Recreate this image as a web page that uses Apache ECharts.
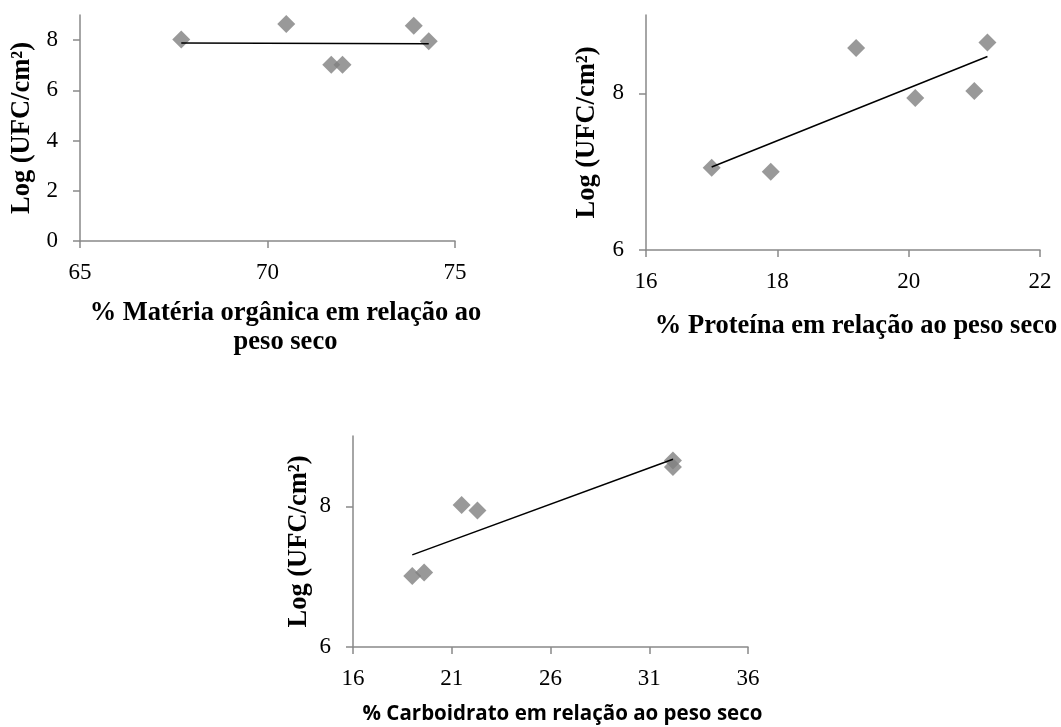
<!DOCTYPE html>
<html>
<head>
<meta charset="utf-8">
<script src="https://cdn.jsdelivr.net/npm/echarts@6/dist/echarts.min.js"></script>
<style>
html,body{margin:0;padding:0;background:#fff;}
#chart{width:1061px;height:727px;}
</style>
</head>
<body>
<div id="chart"></div>
<script>
// Chart 1: organic matter
const moX = [67.7, 70.5, 71.7, 72.0, 73.9, 74.3];
const moY = [8.02, 8.64, 7.02, 7.02, 8.57, 7.95];
const moTrend = [[67.7, 7.88], [74.3, 7.86]];
const moXTicks = [65, 70, 75];
const moYTicks = [0, 2, 4, 6, 8];

// Chart 2: protein
const protX = [17.0, 17.9, 19.2, 20.1, 21.0, 21.2];
const protY = [7.05, 7.00, 8.58, 7.94, 8.03, 8.65];
const protTrend = [[17.0, 7.06], [21.2, 8.47]];
const protXTicks = [16, 18, 20, 22];
const protYTicks = [6, 8];

// Chart 3: carbohydrate
const carbX = [19.0, 19.6, 21.5, 22.3, 32.2, 32.2];
const carbY = [7.01, 7.06, 8.02, 7.94, 8.65, 8.56];
const carbTrend = [[19.0, 7.31], [32.2, 8.67]];
const carbXTicks = [16, 21, 26, 31, 36];
const carbYTicks = [6, 8];

const yTitle = 'Log (UFC/cm²)';
const xTitle1 = '% Matéria orgânica em relação ao\npeso seco';
const xTitle2 = '% Proteína em relação ao peso seco';
const xTitle3 = '% Carboidrato em relação ao peso seco';

const AX = '#898989';
const MK = '#7f7f7f';
const serif = '"Liberation Serif", "Times New Roman", serif';

function pairs(xs, ys){ return xs.map((x,i)=>[x, ys[i]]); }

function xAxis(idx, min, max, ticks, name, gap, nameStyle){
  return {
    type:'value', gridIndex:idx, min:min, max:max,
    name:name, nameLocation:'middle', nameGap:gap,
    nameTextStyle:Object.assign({color:'#000', fontWeight:'bold', fontFamily:serif, fontSize:26.5, lineHeight:29, verticalAlign:'top'}, nameStyle||{}),
    axisLine:{show:true, onZero:false, lineStyle:{color:AX, width:1.5}},
    axisTick:{show:true, length:7, lineStyle:{color:AX, width:1.5}, customValues:ticks},
    axisLabel:{color:'#000', fontFamily:serif, fontSize:23, margin:20, customValues:ticks},
    splitLine:{show:false}
  };
}
function yAxis(idx, min, max, ticks, gap){
  return {
    type:'value', gridIndex:idx, min:min, max:max,
    name:yTitle, nameLocation:'middle', nameGap:gap, nameRotate:90,
    nameTextStyle:{color:'#000', fontWeight:'bold', fontFamily:serif, fontSize:26.5},
    axisLine:{show:true, onZero:false, lineStyle:{color:AX, width:1.5}},
    axisTick:{show:true, length:7, lineStyle:{color:AX, width:1.5}, customValues:ticks},
    axisLabel:{color:'#000', fontFamily:serif, fontSize:23, margin:22, customValues:ticks},
    splitLine:{show:false}
  };
}
function scatter(idx, xs, ys){
  return {type:'scatter', xAxisIndex:idx, yAxisIndex:idx, data:pairs(xs,ys),
    symbol:'diamond', symbolSize:[18,18], itemStyle:{color:MK}, z:3};
}
function trend(idx, pts){
  return {type:'line', xAxisIndex:idx, yAxisIndex:idx, data:pts, symbol:'none',
    lineStyle:{color:'#000', width:1.5}, z:4, silent:true};
}

const chart = echarts.init(document.getElementById('chart'), null, {renderer:'canvas'});
chart.setOption({
  backgroundColor:'#fff',
  animation:false,
  grid:[
    {left:80, top:15, width:375, height:226},
    {left:646, top:15, width:394, height:235},
    {left:353, top:436, width:395, height:212}
  ],
  xAxis:[
    xAxis(0, 65, 75, moXTicks, xTitle1, 58, {padding:[0,0,0,36]}),
    xAxis(1, 16, 22, protXTicks, xTitle2, 62, {padding:[0,0,0,26]}),
    xAxis(2, 16, 36, carbXTicks, xTitle3, 55, {fontFamily:'"Open Sans", "Noto Sans", sans-serif', fontSize:20.5, lineHeight:24, padding:[0,0,0,24]})
  ],
  yAxis:[
    yAxis(0, 0, 9, moYTicks, 44),
    yAxis(1, 6, 9, protYTicks, 45),
    yAxis(2, 6, 9, carbYTicks, 40)
  ],
  series:[
    scatter(0, moX, moY), trend(0, moTrend),
    scatter(1, protX, protY), trend(1, protTrend),
    scatter(2, carbX, carbY), trend(2, carbTrend)
  ]
});
</script>
</body>
</html>
